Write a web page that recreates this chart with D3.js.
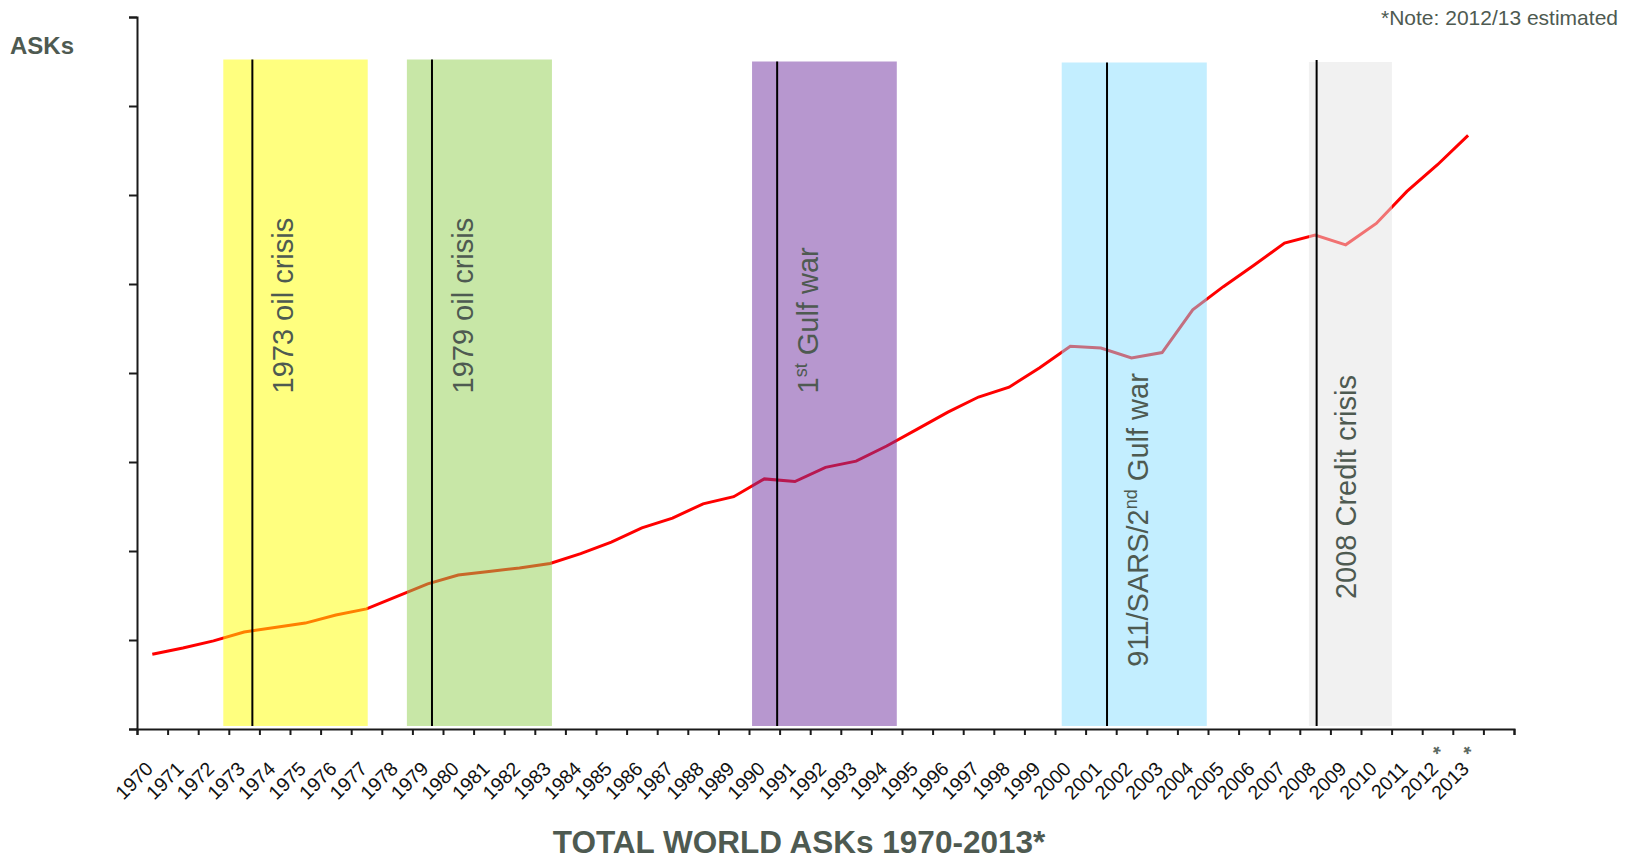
<!DOCTYPE html>
<html>
<head>
<meta charset="utf-8">
<script src="https://cdn.jsdelivr.net/npm/d3@7"></script>
<style>
  body { margin: 0; background: #fff; }
  svg { display: block; font-family: "Liberation Sans", Arial, Helvetica, sans-serif; }
</style>
</head>
<body>
<svg id="chart" width="1633" height="861"></svg>
<script>
// Category axis: one slot per year, plus an empty trailing slot
const years = [1970, 1971, 1972, 1973, 1974, 1975, 1976, 1977, 1978, 1979,
               1980, 1981, 1982, 1983, 1984, 1985, 1986, 1987, 1988, 1989,
               1990, 1991, 1992, 1993, 1994, 1995, 1996, 1997, 1998, 1999,
               2000, 2001, 2002, 2003, 2004, 2005, 2006, 2007, 2008, 2009,
               2010, 2011, 2012, 2013];
const estimatedYears = [2012, 2013];

// Total world available seat kilometres (trillions)
const asks = [0.84, 0.91, 0.99, 1.09, 1.14, 1.19, 1.28, 1.35, 1.49, 1.63,
              1.73, 1.77, 1.81, 1.86, 1.97, 2.10, 2.26, 2.37, 2.53, 2.61,
              2.81, 2.78, 2.94, 3.01, 3.18, 3.37, 3.56, 3.73, 3.84, 4.06,
              4.30, 4.28, 4.17, 4.23, 4.71, 4.97, 5.21, 5.46, 5.55, 5.44,
              5.68, 6.04, 6.34, 6.67];

// Y axis tick values (unlabelled steps)
const yTicks = [0, 1, 2, 3, 4, 5, 6, 7, 8];

// Crisis periods: shaded span, marker year and label
const eventLabels = [
  [["1973 oil crisis", false]],
  [["1979 oil crisis", false]],
  [["1", false], ["st", true], [" Gulf war", false]],
  [["911/SARS/2", false], ["nd", true], [" Gulf war", false]],
  [["2008 Credit crisis", false]]
];
const eventStart  = [1972.32, 1978.32, 1989.60, 1999.72, 2007.80];
const eventEnd    = [1977.04, 1983.06, 1994.33, 2004.46, 2010.51];
const eventMarker = [1973.27, 1979.14, 1990.42, 2001.20, 2008.05];
const eventColors = ["#ffff00", "#92d050", "#7030a0", "#87ddff", "#e3e3e3"];
// where each vertical label begins, in axis units
const eventLabelBase = [3.77, 3.77, 3.77, 0.70, 1.46];

const svg = d3.select("#chart");
const textColor = "#4e5a51";

const x = d3.scaleLinear().domain([1969.5, 2014.5]).range([137, 1514]);
const y = d3.scaleLinear().domain([0, 8]).range([729, 17]);

// layout of the shaded bands
const bandTop = [59.5, 59.5, 61.5, 62.5, 62];
const markerTop = [59.5, 59.5, 61.5, 62.5, 60];
const labelGap = [41, 41, 41, 41, 39.5];
const bandBottom = 726;

// Series line (drawn beneath the translucent crisis bands)
const line = d3.line()
  .x((d, i) => x(years[i]))
  .y(d => y(d));

svg.append("path")
  .datum(asks)
  .attr("d", line)
  .attr("fill", "none")
  .attr("stroke", "#ff0000")
  .attr("stroke-width", 3);

// Crisis bands
const events = eventStart.map((s, i) => ({
  i, start: s, end: eventEnd[i], marker: eventMarker[i],
  color: eventColors[i], label: eventLabels[i], base: eventLabelBase[i]
}));

svg.append("g").selectAll("rect")
  .data(events)
  .join("rect")
  .attr("x", d => x(d.start))
  .attr("width", d => x(d.end) - x(d.start))
  .attr("y", d => bandTop[d.i])
  .attr("height", d => bandBottom - bandTop[d.i])
  .attr("fill", d => d.color)
  .attr("fill-opacity", 0.5);

svg.append("g").selectAll("line")
  .data(events)
  .join("line")
  .attr("x1", d => x(d.marker))
  .attr("x2", d => x(d.marker))
  .attr("y1", d => markerTop[d.i])
  .attr("y2", bandBottom)
  .attr("stroke", "#000")
  .attr("stroke-width", 2);

// Vertical event labels
const labels = svg.append("g").selectAll("text")
  .data(events)
  .join("text")
  .attr("transform", d => `translate(${x(d.marker) + labelGap[d.i]},${y(d.base)}) rotate(-90)`)
  .attr("text-anchor", "start")
  .attr("font-size", 29)
  .attr("fill", textColor);

labels.each(function (d) {
  const t = d3.select(this);
  let raised = false;
  d.label.forEach(([txt, sup]) => {
    const span = t.append("tspan").text(txt);
    if (sup && !raised) {
      span.attr("font-size", 18).attr("dy", -11);
      raised = true;
    } else if (!sup && raised) {
      span.attr("dy", 11);
      raised = false;
    }
  });
});

// Axes
const yAxis = d3.axisLeft(y).tickValues(yTicks).tickSize(8).tickFormat("");
const gy = svg.append("g").attr("transform", `translate(${x(1969.5)},0)`).call(yAxis);

const boundaries = d3.range(0, 46).map(i => 1969.5 + i);
const xAxis = d3.axisBottom(x).tickValues(boundaries).tickSize(6).tickFormat("");
const gx = svg.append("g").attr("transform", `translate(0,${y(0)})`).call(xAxis);

[gx, gy].forEach(g => {
  g.select(".domain").attr("stroke", "#1a1a1a").attr("stroke-width", 2);
  g.selectAll(".tick line").attr("stroke", "#1a1a1a").attr("stroke-width", 2);
});

// Year labels, rotated
const yl = svg.append("g").selectAll("g")
  .data(years)
  .join("g")
  .attr("transform", d => `translate(${x(d) + 2},770) rotate(-45)`);

yl.append("text")
  .attr("text-anchor", "end")
  .attr("font-size", 19.5)
  .attr("fill", "#111")
  .text(d => d);

yl.filter(d => estimatedYears.includes(d))
  .append("text")
  .attr("x", 8)
  .attr("y", -6)
  .attr("font-size", 20)
  .attr("font-weight", "bold")
  .attr("fill", "#5d6a62")
  .text("*");

// Titles and notes
svg.append("text")
  .attr("x", 10).attr("y", 54)
  .attr("font-size", 24).attr("font-weight", "bold")
  .attr("fill", textColor)
  .text("ASKs");

svg.append("text")
  .attr("x", 1618).attr("y", 25)
  .attr("text-anchor", "end")
  .attr("font-size", 21)
  .attr("fill", textColor)
  .text("*Note: 2012/13 estimated");

svg.append("text")
  .attr("x", 799).attr("y", 852.7)
  .attr("text-anchor", "middle")
  .attr("font-size", 31.5).attr("font-weight", "bold")
  .attr("fill", textColor)
  .text("TOTAL WORLD ASKs 1970-2013*");
</script>
</body>
</html>
